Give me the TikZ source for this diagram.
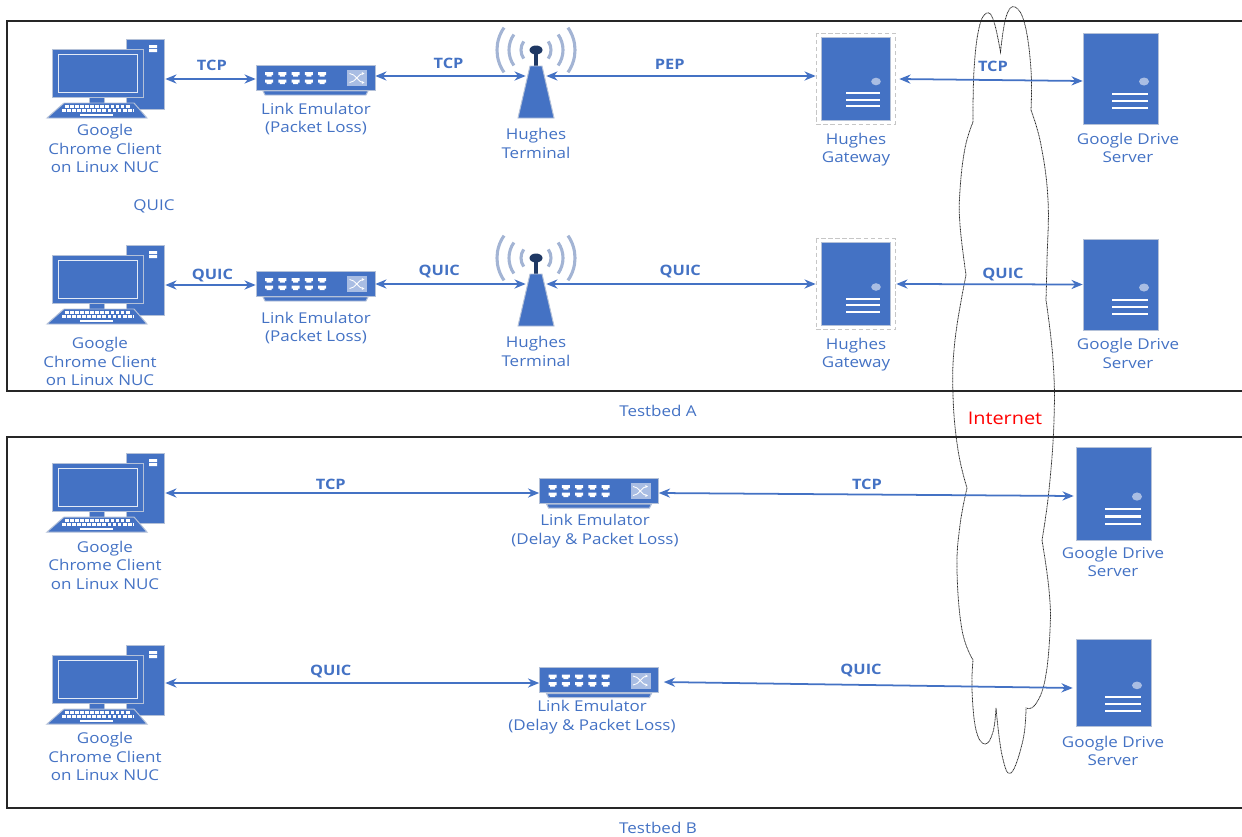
\documentclass[tikz,border=0pt]{standalone}
\usepackage{fontspec}
\setmainfont[FakeStretch=1.14]{Open Sans}
\usetikzlibrary{arrows.meta,calc}

\definecolor{iconblue}{HTML}{4472C4}
\definecolor{iconedge}{HTML}{B4C1D8}
\definecolor{iconlight}{HTML}{A9BDE3}
\definecolor{icondark}{HTML}{1F3864}

\tikzset{
  % computer: tower behind, screen, stand, keyboard
  pics/computer/.style={code={
    \draw[icon] (21,-40) rectangle (59,30);
    \fill[white] (44,-34) rectangle (52,-31) (44,-30) rectangle (52,-27);
    \draw[icon] (-16,18) rectangle (-1,24);
    \draw[icon] (-53,-30) rectangle (38,18);
    \draw[draw=white!85!iconblue, line width=.7pt] (-47,-25) rectangle (32,13);
    \draw[icon] (-58,39) -- (42,39) -- (29,24) -- (-41,24) -- cycle;
    \draw[white, line width=1.7pt, dash pattern=on 2.7pt off .9pt] (-40,27.5) -- (25,27.5);
    \draw[white, line width=1.7pt, dash pattern=on 2.7pt off .9pt] (-43,31.5) -- (28,31.5);
    \fill[white] (-25,34.5) rectangle (8,37);
  }},
  % switch with five port pairs
  pics/switch/.style={code={
    \draw[icon] (-52.5,13.5) -- (52.5,13.5) -- (50.5,17.5) -- (-50.5,17.5) -- cycle;
    \draw[icon] (-59.5,-12.5) rectangle (59.5,12.5);
    \foreach \i in {0,...,4} {
      \fill[white, shift={(-50.5+13.3*\i,0)}]
        (0,-5.5) rectangle (8,-2.5) (1.5,-2.5) rectangle (6.5,-1)
        (0,2) rectangle (8,5) (1.5,5) rectangle (6.5,6.5);
    }
    \fill[iconlight] (31.5,-7.5) rectangle (51.5,8.5);
    \draw[white, line width=.6pt, -{Stealth[length=2pt,width=2pt]}] (34,-4) .. controls (40,-4) and (43,5) .. (49,5);
    \draw[white, line width=.6pt, -{Stealth[length=2pt,width=2pt]}] (34,5) .. controls (40,5) and (43,-4) .. (49,-4);
  }},
  % mast with radio waves
  pics/tower/.style={code={
    \foreach \r in {15,27,39} {
      \draw[wave] (0,-26) ++(145:\r) arc[start angle=145, end angle=215, radius=\r];
      \draw[wave] (0,-26) ++(-35:\r) arc[start angle=-35, end angle=35, radius=\r];
    }
    \fill[icondark] (-1.6,-26) rectangle (1.6,-10);
    \fill[icondark] (0,-26) ellipse (6.5 and 4.5);
    \draw[icon] (-18,42) -- (18,42) -- (6,-10) -- (-6,-10) -- cycle;
  }},
  % server box; yscale of the pic sets its height
  pics/server/.style={code={
    \draw[icon] (-37.5,-45.5) rectangle (37.5,45.5);
    \fill[iconlight] (23.5,3) ellipse (5 and 4);
    \foreach \y in {15.5,22.5,29.5} \fill[white] (-8.5,\y-1) rectangle (27.5,\y+1);
  }},
  pics/gateway/.style={code={
    \draw[gray!45, densely dashed, line width=.6pt] (-39.5,-45.5) rectangle (39.5,45.5);
    \draw[icon] (-34.5,-41.5) rectangle (34.5,41.5);
    \fill[iconlight] (20.5,3) ellipse (4.8 and 3.8);
    \foreach \y in {14.5,21,27.5} \fill[white] (-9.5,\y-1) rectangle (24.5,\y+1);
  }},
}

\begin{document}
\begin{tikzpicture}[
  x=0.025cm, y=-0.025cm,
  >={Stealth[length=8pt,width=6.5pt]},
  icon/.style={draw=iconedge, fill=iconblue, line width=.7pt},
  wave/.style={draw=iconlight!85!gray, line width=2.2pt},
  pcbox/.style={inner sep=0pt, minimum width=3cm, minimum height=2cm},
  swbox/.style={inner sep=0pt, minimum width=2.975cm, minimum height=.625cm},
  terbox/.style={inner sep=0pt, minimum width=.5cm, minimum height=2cm},
  gwbox/.style={inner sep=0pt, minimum width=1.975cm, minimum height=2.275cm},
  srvbox/.style={inner sep=0pt, minimum width=1.875cm, minimum height=2.275cm},
  lbl/.style={text=iconblue, align=center, inner sep=0pt, font=\fontsize{10.6}{13.2}\selectfont},
  proto/.style={text=iconblue, inner sep=0pt, font=\fontsize{10.2}{12}\selectfont\bfseries},
  arr/.style={<->, draw=iconblue, line width=1.25pt},
  framebox/.style={draw=black!85, line width=.75pt},
]
\useasboundingbox (0,0) rectangle (1242,836);

% two testbed frames, open at the right edge
\draw[framebox] (1243,21) -- (7,21) -- (7,391) -- (1243,391);
\draw[framebox] (1243,437) -- (7,437) -- (7,808) -- (1243,808);

% internet cloud
\draw[black!85, line width=.55pt, dash pattern=on .7pt off .4pt]
  plot[smooth, tension=.7] coordinates {(973,122) (974,70) (979,28) (987,13) (994,22) (1000.5,52)}
  -- plot[smooth, tension=.7] coordinates {(1000.5,52) (1006,17) (1015,7) (1025,25) (1031,70) (1031,110)}
  -- plot[smooth, tension=.7] coordinates {(1031,110) (1041,145) (1048,200) (1047,260) (1046,300)}
  -- plot[smooth, tension=.7] coordinates {(1046,300) (1053,360) (1054,420) (1049,490) (1042,540)}
  -- plot[smooth, tension=.7] coordinates {(1042,540) (1049,590) (1050,630) (1045,680) (1035,705) (1026,708)}
  -- plot[smooth, tension=.7] coordinates {(1026,708) (1023,740) (1011,773) (1002,755) (996,708)}
  -- plot[smooth, tension=.7] coordinates {(996,708) (993,732) (985,744) (976,730) (972,690) (973,660)}
  -- plot[smooth, tension=.7] coordinates {(973,660) (962,630) (957,570) (960,525) (967,488)}
  -- plot[smooth, tension=.7] coordinates {(967,488) (958,450) (953,395) (955,340) (966,275)}
  -- plot[smooth, tension=.7] coordinates {(966,275) (960,225) (960,190) (965,148) (973,122)};

% row A1
\node[pcbox]  (pcaa)  at (105,79) {};
\node[swbox]  (swaa)  at (315.5,77.5) {};
\node[terbox] (teraa) at (536,76) {};
\node[gwbox]  (gwaa)  at (855.5,78.5) {};
\node[srvbox] (srvaa) at (1120.5,78.5) {};
\pic at (pcaa) {computer};
\pic at (swaa) {switch};
\pic at (teraa) {tower};
\pic at (gwaa) {gateway};
\pic at (srvaa) {server};

\node[lbl] (pcaat)  at (105,148.5) {Google\\Chrome Client\\on Linux NUC};
\node[lbl] (swaat)  at (316,119) {Link Emulator\\(Packet Loss)};
\node[lbl] (teraat) at (536,143.5) {Hughes\\Terminal};
\node[lbl] (gwaat)  at (856,149.5) {Hughes\\Gateway};
\node[lbl] (srvaat) at (1128,148) {Google Drive\\Server};
\node[lbl] (quict)  at (154,206) {QUIC};

\draw[arr] (pcaa.east) -- (pcaa.east -| swaa.west) node[midway, proto, xshift=1pt, yshift=9.6pt] (pa1) {TCP};
\draw[arr] (swaa.east |- teraa) -- (teraa.west) node[midway, proto, xshift=-1.4pt, yshift=9pt] (pa2) {TCP};
\draw[arr] (teraa.east) -- (teraa.east -| gwaa.west) node[midway, proto, xshift=-8pt, yshift=8.2pt] (pa3) {PEP};
\draw[arr] ($(gwaa.east)+(4,.5)$) -- ($(srvaa.west)+(0,2.5)$);
\node[proto] (pa4) at (993,66.5) {TCP};

% row A2
\node[pcbox]  (pcab)  at (105,285) {};
\node[swbox]  (swab)  at (315.5,283.5) {};
\node[terbox] (terab) at (536,284) {};
\node[gwbox]  (gwab)  at (855.5,284) {};
\node[srvbox] (srvab) at (1120.5,284.5) {};
\pic at (pcab) {computer};
\pic at (swab) {switch};
\pic at (terab) {tower};
\pic at (gwab) {gateway};
\pic at (srvab) {server};

\node[lbl] (pcabt)  at (100,361.5) {Google\\Chrome Client\\on Linux NUC};
\node[lbl] (swabt)  at (316,328) {Link Emulator\\(Packet Loss)};
\node[lbl] (terabt) at (536,351.5) {Hughes\\Terminal};
\node[lbl] (gwabt)  at (856,354.5) {Hughes\\Gateway};
\node[lbl] (srvabt) at (1128,353.5) {Google Drive\\Server};

\draw[arr] (pcab.east) -- (pcab.east -| swab.west) node[midway, proto, xshift=1.4pt, yshift=7pt] (pb1) {QUIC};
\draw[arr] (swab.east |- terab) -- (terab.west) node[midway, proto, xshift=-8pt, yshift=9pt] (pb2) {QUIC};
\draw[arr] (terab.east) -- (terab.east -| gwab.west) node[midway, proto, xshift=-.5pt, yshift=9pt] (pb3) {QUIC};
\draw[arr] ($(gwab.east)+(1,0)$) -- (srvab.west);
\node[proto] (pb4) at (1003,275) {QUIC};

\node[lbl] (tbeda) at (658,411) {Testbed A};

% row B1
\node[pcbox]  (pcba)  at (105,493) {};
\node[swbox]  (swba)  at (599,490.5) {};
\node[srvbox, minimum height=2.325cm] (srvba) at (1113.5,493.5) {};
\pic at (pcba) {computer};
\pic at (swba) {switch};
\pic[yscale=1.022] at (srvba) {server};

\node[lbl] (pcbat)  at (105,565) {Google\\Chrome Client\\on Linux NUC};
\node[lbl] (swbat)  at (595,531) {Link Emulator\\(Delay \& Packet Loss)};
\node[lbl] (srvbat) at (1113,562) {Google Drive\\Server};

\draw[arr] (pcba.east) -- (pcba.east -| swba.west) node[pos=.44, proto, xshift=.7pt, yshift=6pt] (pc1) {TCP};
\draw[arr] (swba.east |- pcba) -- ($(srvba.west)+(-2,2.5)$);
\node[proto] (pc2) at (867,484.5) {TCP};

% row B2
\node[pcbox]  (pcbb)  at (105,683) {};
\node[swbox]  (swbb)  at (599,680) {};
\node[srvbox, minimum height=2.175cm] (srvbb) at (1113.5,682.5) {};
\pic at ($(pcbb)+(0,2)$) {computer};
\pic at (swbb) {switch};
\pic[yscale=.956] at (srvbb) {server};

\node[lbl] (pcbbt)  at (105,756.5) {Google\\Chrome Client\\on Linux NUC};
\node[lbl] (swbbt)  at (592,717) {Link Emulator\\(Delay \& Packet Loss)};
\node[lbl] (srvbbt) at (1113,751) {Google Drive\\Server};

\draw[arr] (pcbb.east) -- (pcbb.east -| swbb.west) node[pos=.44, proto, xshift=.7pt, yshift=8.3pt] (pd1) {QUIC};
\draw[arr] ($(swbb.east)+(5,2)$) -- ($(srvbb.west)+(-3,5.5)$);
\node[proto] (pd2) at (861,671) {QUIC};

\node[lbl] (tbedb) at (658,828) {Testbed B};
\node[text=red, inner sep=0pt, font=\fontsize{12.4}{14}\selectfont] (inet) at (1005,418) {Internet};
\end{tikzpicture}
\end{document}
